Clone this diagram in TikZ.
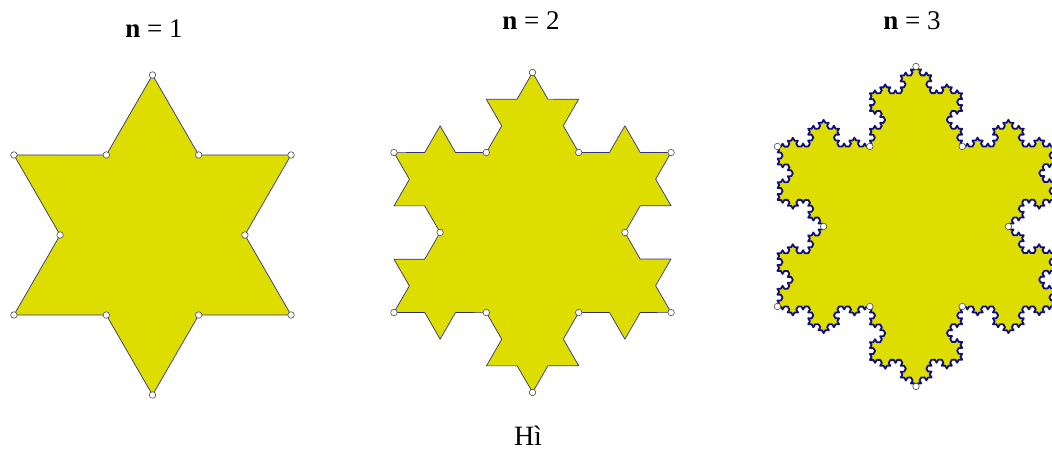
\documentclass[tikz,border=0pt]{standalone}
\usepackage{fontspec}
\setmainfont{Liberation Serif}
\usetikzlibrary{calc,decorations.fractals}
\definecolor{flakefill}{RGB}{221,221,0}
\definecolor{flakeline}{RGB}{50,50,120}
\definecolor{flakenavy}{RGB}{15,15,130}

\begin{document}
\begin{tikzpicture}[
  x=1pt, y=1pt,
  flake/.style={fill=flakefill, draw=flakeline, line width=0.7pt, line join=round, decoration=Koch snowflake},
  deep/.style={flake, draw=flakenavy, line width=1.8pt},
  vtx/.style={circle, draw=black!70, fill=white, line width=0.6pt, inner sep=0pt, minimum size=6.5pt},
  ttl/.style={anchor=base, font=\fontsize{27}{32}\selectfont},
]
\useasboundingbox (0,0) rectangle (1052,454);
\clip (0,0) rectangle (1052,454);
\coordinate (c1) at (152.5,219);
\coordinate (c2) at (532.5,221.5);
\coordinate (c3) at (916,227.5);
\path[flake] decorate{($(c1)+(90:160)$) -- ($(c1)+(330:160)$) -- ($(c1)+(210:160)$) -- cycle};
\path[flake] decorate{decorate{($(c2)+(90:160)$) -- ($(c2)+(330:160)$) -- ($(c2)+(210:160)$) -- cycle}};
\path[deep] decorate{decorate{decorate{decorate{($(c3)+(90:160)$) -- ($(c3)+(330:160)$) -- ($(c3)+(210:160)$) -- cycle}}}};
\foreach \s in {1,2,3}{
  \foreach \k in {0,...,5}{
    \node[vtx] (o\s\k) at ($(c\s)+(30+60*\k:160)$) {};
    \node[vtx] (i\s\k) at ($(c\s)+(60*\k:92.4)$) {};
  }
}
\node[ttl] (t1) at (154,416) {\textbf{n} = 1};
\node[ttl] (t2) at (531,424) {\textbf{n} = 2};
\node[ttl] (t3) at (912,424) {\textbf{n} = 3};
\node[anchor=base, inner sep=0pt, font=\fontsize{28}{32}\selectfont] (cap) at (528,8) {Hì};
\end{tikzpicture}
\end{document}
